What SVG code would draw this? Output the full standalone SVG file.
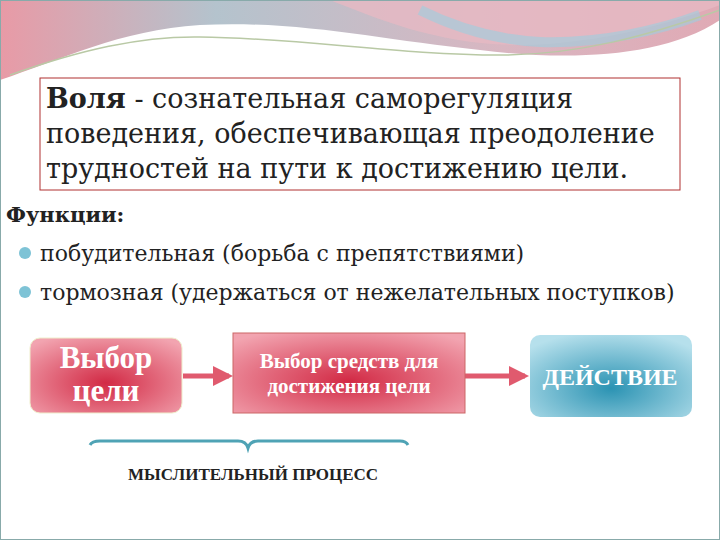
<svg xmlns="http://www.w3.org/2000/svg" width="720" height="540" viewBox="0 0 720 540">
<defs>
<linearGradient id="bgTop" x1="0" y1="0" x2="1" y2="0">
<stop offset="0" stop-color="#e89aa6"/><stop offset="0.3" stop-color="#b4c3cd"/><stop offset="0.7" stop-color="#d9b6c1"/><stop offset="1" stop-color="#e0aab5"/>
</linearGradient>
<radialGradient id="red" cx="0.5" cy="0.6" r="0.7">
<stop offset="0" stop-color="#d22a45"/><stop offset="1" stop-color="#f2a4b0"/>
</radialGradient>
<radialGradient id="blue" cx="0.5" cy="0.65" r="0.7">
<stop offset="0" stop-color="#2b93b3"/><stop offset="1" stop-color="#b6e0ec"/>
</radialGradient>
<marker id="arr" viewBox="0 0 10 10" refX="8" refY="5" markerWidth="4" markerHeight="4" orient="auto">
<path d="M0,0 L10,5 L0,10 z" fill="#e05a6e"/>
</marker>
<style>
.t{font-family:"DejaVu Serif","Liberation Serif",serif;fill:#222}
.b{font-family:"Liberation Serif","DejaVu Serif",serif;font-weight:bold;fill:#fff;text-anchor:middle}
.lbl{font-family:"Liberation Serif","DejaVu Serif",serif;font-weight:bold;fill:#222;text-anchor:middle}
</style>
</defs>
<rect width="720" height="540" fill="#fff"/>
<path d="M0,0 H720 V20 C660,60 560,60 480,50 C380,40 300,20 200,25 C120,30 60,60 0,80 Z" fill="url(#bgTop)"/>
<path d="M330,0 C380,20 440,45 520,45 C600,45 680,20 720,5 V0 Z" fill="#e6b9c3" opacity="0.8"/>
<path d="M420,10 C460,30 500,40 540,42 C600,44 660,30 700,15" fill="none" stroke="#9ccfe0" stroke-width="10" opacity="0.6"/>
<path d="M10,75 C80,50 140,36 200,37 C300,38 400,55 500,55 C580,55 650,35 720,10" fill="none" stroke="#b9c9a5" stroke-width="1.5"/>
<rect x="0.5" y="0.5" width="719" height="539" fill="none" stroke="#8aa" stroke-width="1"/>
<g id="definition">
<rect x="40" y="78" width="640" height="112" fill="#fff" stroke="#b03030" stroke-width="1"/>
<text class="t" font-size="27" x="46" y="108"><tspan font-weight="bold">Воля</tspan> - сознательная саморегуляция</text>
<text class="t" font-size="27" x="46" y="143">поведения, обеспечивающая преодоление</text>
<text class="t" font-size="27" x="46" y="178">трудностей на пути к достижению цели.</text>
</g>
<g id="functions">
<text class="t" font-size="21" font-weight="bold" x="6" y="222">Функции:</text>
<circle cx="25" cy="253" r="6" fill="#7ec3d6"/>
<text class="t" font-size="22" x="40" y="261">побудительная (борьба с препятствиями)</text>
<circle cx="25" cy="292" r="6" fill="#7ec3d6"/>
<text class="t" font-size="22" x="40" y="300">тормозная (удержаться от нежелательных поступков)</text>
</g>
<g id="connectors" stroke="#e05a6e" stroke-width="5" fill="none">
<line x1="183" y1="376" x2="229" y2="376" marker-end="url(#arr)"/>
<line x1="465" y1="376" x2="525" y2="376" marker-end="url(#arr)"/>
</g>
<g id="node1">
<rect x="30" y="338" width="152" height="75" rx="10" fill="url(#red)" stroke="#eec" stroke-width="1"/>
<text class="b" font-size="31" x="106" y="368">Выбор</text>
<text class="b" font-size="31" x="106" y="401">цели</text>
</g>
<g id="node2">
<rect x="233" y="333" width="232" height="80" fill="url(#red)" stroke="#c66" stroke-width="1"/>
<text class="b" font-size="21" x="349" y="368">Выбор средств для</text>
<text class="b" font-size="21" x="349" y="393">достижения цели</text>
</g>
<g id="node3">
<rect x="530" y="335" width="162" height="82" rx="10" fill="url(#blue)"/>
<text class="b" font-size="24" x="610" y="385">ДЕЙСТВИЕ</text>
</g>
<g id="brace">
<path d="M90,445 Q92,441 100,441 H238 Q246,441 248,448 Q250,441 258,441 H400 Q406,441 408,445" fill="none" stroke="#4fa3b5" stroke-width="3"/>
<text class="lbl" font-size="17" x="253" y="480">МЫСЛИТЕЛЬНЫЙ ПРОЦЕСС</text>
</g>
</svg>
